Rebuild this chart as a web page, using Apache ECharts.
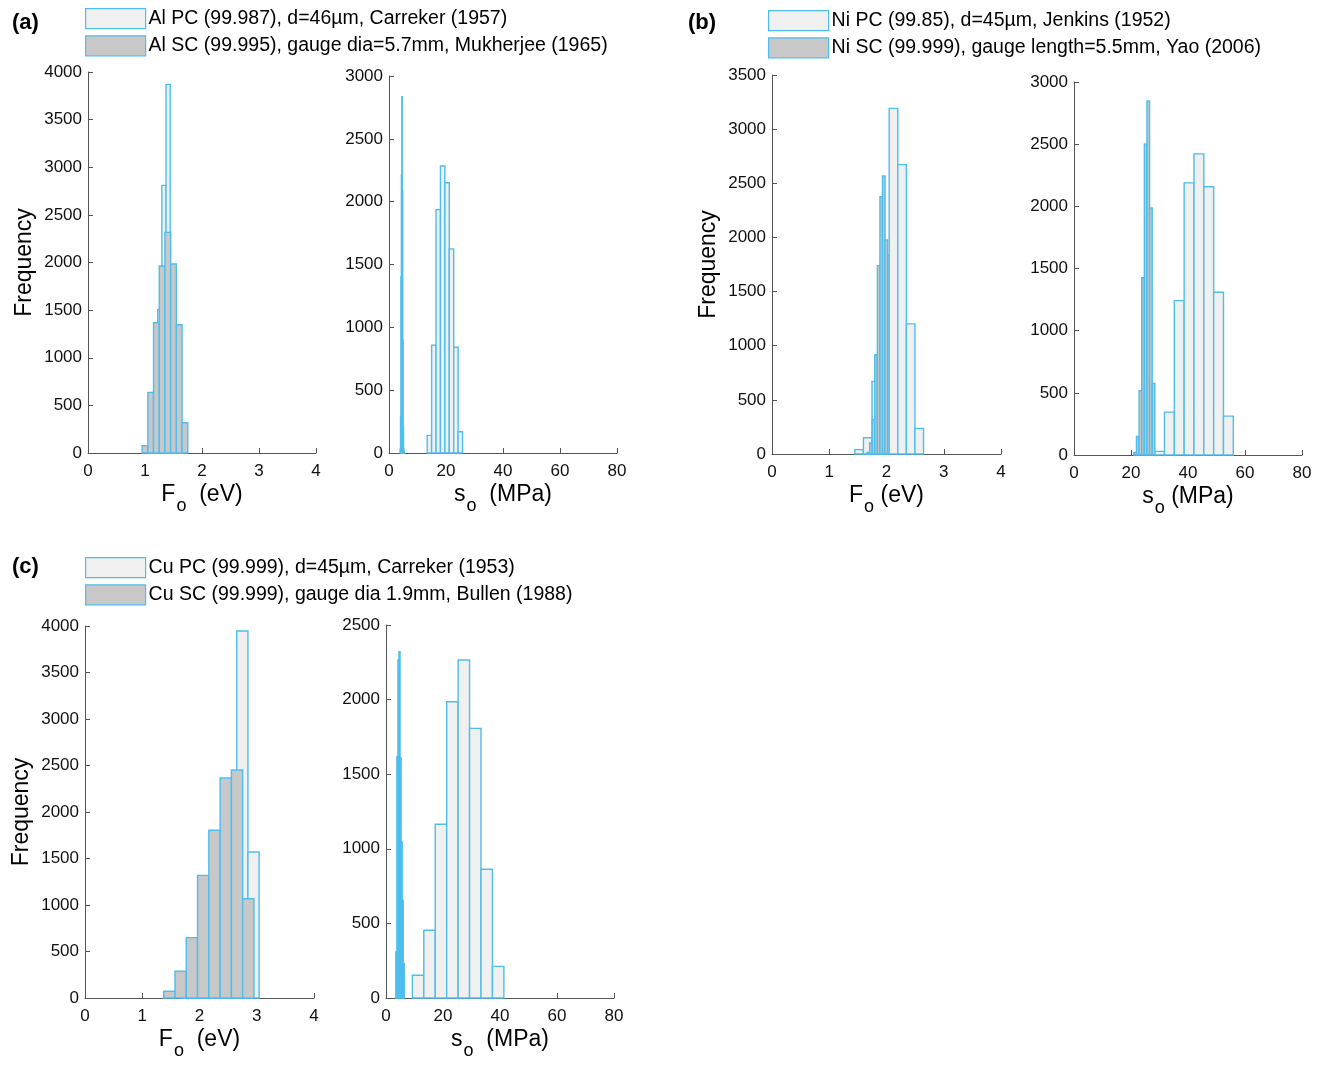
<!DOCTYPE html>
<html><head><meta charset="utf-8">
<script src="https://cdn.jsdelivr.net/npm/echarts@6/dist/echarts.min.js"></script>
<style>html,body{margin:0;padding:0;background:#fff}#c{width:1322px;height:1065px}</style>
</head><body><div id="c"></div>
<script>
// ---------- DATA (bin edges and counts) ----------
// (a) Al
const alPcF_edges = [1.077, 1.15, 1.223, 1.296, 1.369, 1.442, 1.515, 1.588, 1.661];
const alPcF_counts = [100, 500, 1505, 2810, 3870, 900, 250, 60];
const alScF_edges = [0.95, 1.05, 1.15, 1.25, 1.35, 1.45, 1.55, 1.65, 1.75];
const alScF_counts = [77, 637, 1368, 1963, 2316, 1984, 1347, 318];
const alPcS_edges = [13.4, 14.95, 16.5, 18.05, 19.6, 21.15, 22.7, 24.25, 25.8];
const alPcS_counts = [140, 858, 1937, 2284, 2151, 1624, 842, 169];
const alScS_edges = [3.9, 4.05, 4.2, 4.35, 4.5, 4.65, 4.8, 4.95, 5.1, 5.25, 5.4];
const alScS_counts = [30, 291, 1404, 2212, 2835, 2093, 900, 200, 30, 5];
// (b) Ni
const niPcF_edges = [1.447, 1.597, 1.747, 1.897, 2.047, 2.197, 2.347, 2.497, 2.647];
const niPcF_counts = [40, 150, 670, 1837, 3192, 2672, 1202, 237];
const niScF_edges = [1.66, 1.705, 1.75, 1.795, 1.84, 1.885, 1.93, 1.975, 2.02];
const niScF_counts = [15, 101, 316, 916, 1740, 2377, 2568, 1977];
const niPcS_edges = [28.3, 31.75, 35.2, 38.65, 42.1, 45.55, 49.0, 52.45, 55.9];
const niPcS_counts = [29, 345, 1242, 2189, 2422, 2157, 1309, 313];
const niScS_edges = [21.0, 21.92, 22.84, 23.76, 24.68, 25.6, 26.52, 27.44, 28.36];
const niScS_counts = [20, 150, 517, 1426, 2502, 2847, 1988, 575];
// (c) Cu
const cuPcF_edges = [1.676, 1.871, 2.066, 2.261, 2.456, 2.651, 2.846, 3.041];
const cuPcF_counts = [60, 220, 600, 1400, 2200, 3946, 1570];
const cuScF_edges = [1.375, 1.572, 1.769, 1.966, 2.163, 2.36, 2.557, 2.754, 2.951];
const cuScF_counts = [72, 287, 649, 1319, 1803, 2366, 2452, 1068];
const cuPcS_edges = [9.25, 13.26, 17.28, 21.29, 25.31, 29.32, 33.34, 37.35, 41.37];
const cuPcS_counts = [152, 454, 1165, 1986, 2265, 1807, 863, 212];
const cuScS_edges = [3.45, 3.82, 4.19, 4.56, 4.93, 5.3, 5.67, 6.04, 6.41];
const cuScS_counts = [309, 1617, 2265, 2321, 1610, 1047, 655, 230];

// legend names
const alNames = ['Al PC (99.987), d=46\u00b5m, Carreker (1957)', 'Al SC (99.995), gauge dia=5.7mm, Mukherjee (1965)'];
const niNames = ['Ni PC (99.85), d=45\u00b5m, Jenkins (1952)', 'Ni SC (99.999), gauge length=5.5mm, Yao (2006)'];
const cuNames = ['Cu PC (99.999), d=45\u00b5m, Carreker (1953)', 'Cu SC (99.999), gauge dia 1.9mm, Bullen (1988)'];

// axis ranges
const xMaxF = 4, xIntF = 1, xMaxS = 80, xIntS = 20, yInt = 500;
const yMaxes = [4000, 3000, 3500, 3000, 4000, 2500];
const panelLabels = ['(a)', '(b)', '(c)'];

// ---------- STYLE / LAYOUT ----------
const FONT = '"Liberation Sans", Arial, Helvetica, sans-serif';
const EDGE = '#4DBEEE', PC_FILL = '#F0F0F0', SC_FILL = '#C8C8C8';
const AX = '#555555';
const LW = 1.4;
const grids = [
  {left: 88, top: 72, width: 228, height: 381},
  {left: 389, top: 76, width: 228, height: 377},
  {left: 772, top: 75, width: 229, height: 379},
  {left: 1074, top: 82, width: 228, height: 373},
  {left: 85, top: 626, width: 229, height: 372},
  {left: 386, top: 625, width: 228, height: 373}
];

function toBins(edges, counts) { return counts.map((c, i) => [edges[i], edges[i + 1], c]); }

function hist(name, idx, edges, counts, fill) {
  return {
    type: 'custom', name: name, xAxisIndex: idx, yAxisIndex: idx,
    data: toBins(edges, counts), encode: {x: [0, 1], y: 2},
    itemStyle: {color: fill, borderColor: EDGE, borderWidth: LW},
    silent: true,
    renderItem: function (params, api) {
      const p0 = api.coord([api.value(0), api.value(2)]);
      const p1 = api.coord([api.value(1), 0]);
      return {type: 'rect', shape: {x: p0[0], y: p0[1], width: p1[0] - p0[0], height: p1[1] - p0[1]},
        style: {fill: fill, stroke: EDGE, lineWidth: LW}};
    }
  };
}

const richName = {
  m: {fontSize: 23, fontFamily: FONT, color: '#000', lineHeight: 26, verticalAlign: 'top'},
  s: {fontSize: 18, fontFamily: FONT, color: '#000', lineHeight: 20, padding: [14, 0, 0, 1], verticalAlign: 'top'}
};
const xNames = [
  '{m|F}{s|o}{m|  (eV)}', '{m|s}{s|o}{m|  (MPa)}',
  '{m|F}{s|o}{m| (eV)}', '{m|s}{s|o}{m| (MPa)}',
  '{m|F}{s|o}{m|  (eV)}', '{m|s}{s|o}{m|  (MPa)}'
];
const plain = v => String(v);

const xAxes = grids.map((g, i) => ({
  type: 'value', gridIndex: i, min: 0, max: (i % 2 === 0) ? xMaxF : xMaxS, interval: (i % 2 === 0) ? xIntF : xIntS,
  axisLine: {show: true, onZero: false, lineStyle: {color: AX, width: 1}},
  axisTick: {show: true, inside: true, length: 5, lineStyle: {color: AX}},
  axisLabel: {color: '#111', fontSize: 17, fontFamily: FONT, margin: 10, showMinLabel: true, showMaxLabel: true, formatter: plain},
  splitLine: {show: false},
  name: xNames[i], nameLocation: 'middle', nameGap: 30,
  nameTextStyle: {rich: richName}
}));
const yAxes = grids.map((g, i) => ({
  type: 'value', gridIndex: i, min: 0, max: yMaxes[i], interval: yInt,
  axisLine: {show: true, onZero: false, lineStyle: {color: AX, width: 1}},
  axisTick: {show: true, inside: true, length: 5, lineStyle: {color: AX}},
  axisLabel: {color: '#111', fontSize: 17, fontFamily: FONT, margin: 6, showMinLabel: true, showMaxLabel: true, formatter: plain},
  splitLine: {show: false},
  name: (i % 2 === 0) ? 'Frequency' : '', nameLocation: 'middle', nameGap: 52,
  nameTextStyle: {fontSize: 23, fontFamily: FONT, color: '#000'}
}));

function legendFor(names, left, top) {
  return {
    orient: 'vertical', left: left, top: top, padding: 0, itemGap: 6,
    itemWidth: 60, itemHeight: 20, selectedMode: false,
    textStyle: {fontSize: 19.5, fontFamily: FONT, color: '#000', lineHeight: 20, padding: [0, 0, 0, -2]},
    data: [
      {name: names[0], icon: 'rect', itemStyle: {color: PC_FILL, borderColor: EDGE, borderWidth: 1.2}},
      {name: names[1], icon: 'rect', itemStyle: {color: SC_FILL, borderColor: EDGE, borderWidth: 1.2}}
    ]
  };
}

const option = {
  backgroundColor: '#fff',
  animation: false,
  title: [
    {text: panelLabels[0], left: 12, top: 12, padding: 0, textStyle: {fontSize: 22, fontWeight: 'bold', fontFamily: FONT, color: '#000'}},
    {text: panelLabels[1], left: 688, top: 12, padding: 0, textStyle: {fontSize: 22, fontWeight: 'bold', fontFamily: FONT, color: '#000'}},
    {text: panelLabels[2], left: 12, top: 556, padding: 0, textStyle: {fontSize: 22, fontWeight: 'bold', fontFamily: FONT, color: '#000'}}
  ],
  legend: [legendFor(alNames, 85, 8), legendFor(niNames, 768, 10), legendFor(cuNames, 85, 557)],
  grid: grids,
  xAxis: xAxes,
  yAxis: yAxes,
  series: [
    hist(alNames[0], 0, alPcF_edges, alPcF_counts, PC_FILL),
    hist(alNames[1], 0, alScF_edges, alScF_counts, SC_FILL),
    hist(alNames[0], 1, alPcS_edges, alPcS_counts, PC_FILL),
    hist(alNames[1], 1, alScS_edges, alScS_counts, SC_FILL),
    hist(niNames[0], 2, niPcF_edges, niPcF_counts, PC_FILL),
    hist(niNames[1], 2, niScF_edges, niScF_counts, SC_FILL),
    hist(niNames[0], 3, niPcS_edges, niPcS_counts, PC_FILL),
    hist(niNames[1], 3, niScS_edges, niScS_counts, SC_FILL),
    hist(cuNames[0], 4, cuPcF_edges, cuPcF_counts, PC_FILL),
    hist(cuNames[1], 4, cuScF_edges, cuScF_counts, SC_FILL),
    hist(cuNames[0], 5, cuPcS_edges, cuPcS_counts, PC_FILL),
    hist(cuNames[1], 5, cuScS_edges, cuScS_counts, SC_FILL)
  ]
};
const chart = echarts.init(document.getElementById('c'), null, {renderer: 'canvas'});
chart.setOption(option);
</script></body></html>
